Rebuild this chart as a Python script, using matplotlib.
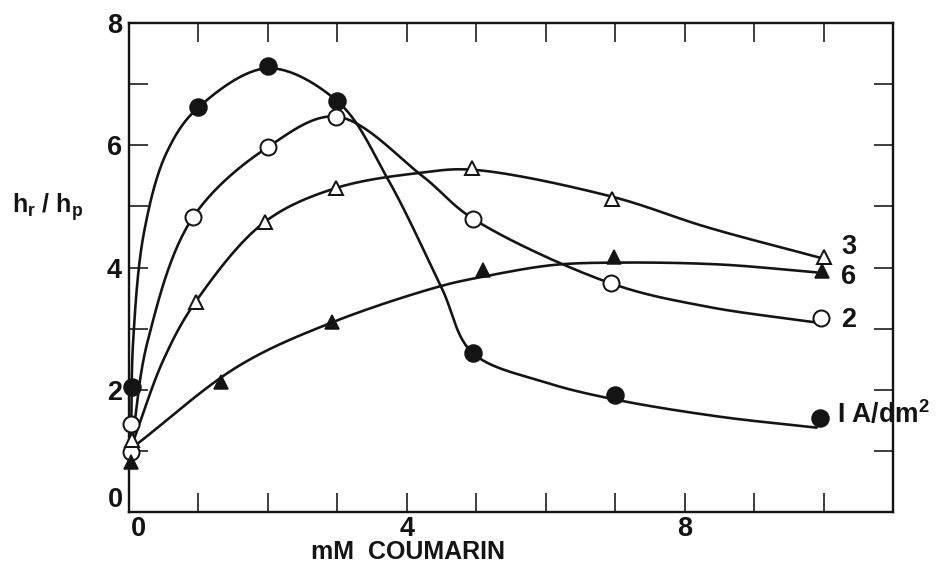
import numpy as np
import matplotlib
matplotlib.use("Agg")
import matplotlib.pyplot as plt

# ── Data (mM coumarin vs h_r/h_p) ─────────────────────────────────────────────
# measured points, one set per current density (A/dm^2)
x_1a = [0.05, 1.0, 2.0, 3.0, 4.95, 7.0, 9.95]
y_1a = [2.05, 6.62, 7.3, 6.72, 2.6, 1.92, 1.54]

x_2a = [0.03, 0.03, 0.92, 2.0, 2.98, 4.95, 6.94, 9.97]
y_2a = [1.44, 0.98, 4.82, 5.97, 6.47, 4.8, 3.74, 3.17]

x_3a = [0.04, 0.96, 1.96, 2.98, 4.94, 6.95, 10.0]
y_3a = [1.18, 3.44, 4.75, 5.3, 5.62, 5.12, 4.17]

x_6a = [0.03, 1.32, 2.92, 5.1, 6.98, 9.98]
y_6a = [0.82, 2.12, 3.11, 3.96, 4.17, 3.95]

# hand-drawn curves through the points (knots)
cx_1a = [0.03, 0.06, 0.22, 0.55, 1.0, 2.0, 3.0, 3.72, 4.5, 4.95, 6.0, 7.0, 8.5, 9.9]
cy_1a = [1.2, 2.8, 4.6, 5.9, 6.62, 7.26, 6.72, 5.46, 3.67, 2.6, 2.12, 1.84, 1.56, 1.38]

cx_2a = [0.04, 0.27, 0.92, 2.0, 2.98, 4.22, 4.95, 6.94, 8.32, 9.9]
cy_2a = [1.12, 2.8, 4.82, 5.97, 6.47, 5.5, 4.8, 3.74, 3.36, 3.1]

cx_3a = [0.05, 0.5, 0.96, 1.96, 2.98, 4.2, 4.94, 6.95, 8.32, 9.95]
cy_3a = [1.12, 2.5, 3.44, 4.75, 5.3, 5.55, 5.6, 5.16, 4.66, 4.16]

cx_6a = [0.08, 1.58, 2.92, 4.47, 5.1, 6.1, 7.0, 8.5, 9.9]
cy_6a = [1.08, 2.39, 3.1, 3.69, 3.85, 4.04, 4.08, 4.05, 3.92]

series_labels = ["I A/dm$^2$", "2", "3", "6"]

# ── Style ──────────────────────────────────────────────────────────────────────
INK = "#141414"
FONT = "Liberation Sans"
LW = 2.6

plt.rcParams["font.family"] = FONT
plt.rcParams["font.weight"] = "bold"
plt.rcParams["mathtext.fontset"] = "custom"
plt.rcParams["mathtext.rm"] = f"{FONT}:bold"
plt.rcParams["mathtext.it"] = f"{FONT}:bold"
plt.rcParams["mathtext.bf"] = f"{FONT}:bold"
plt.rcParams["mathtext.default"] = "rm"


def catmull_rom(xs, ys, n=30):
    """Centripetal Catmull-Rom spline through the knots."""
    p = np.column_stack([xs, ys]).astype(float)
    p = np.vstack([2 * p[0] - p[1], p, 2 * p[-1] - p[-2]])
    out = []
    for i in range(1, len(p) - 2):
        p0, p1, p2, p3 = p[i - 1], p[i], p[i + 1], p[i + 2]
        t0 = 0.0
        t1 = t0 + np.linalg.norm(p1 - p0) ** 0.5
        t2 = t1 + np.linalg.norm(p2 - p1) ** 0.5
        t3 = t2 + np.linalg.norm(p3 - p2) ** 0.5
        t = np.linspace(t1, t2, n)[:, None]
        a1 = (t1 - t) / (t1 - t0) * p0 + (t - t0) / (t1 - t0) * p1
        a2 = (t2 - t) / (t2 - t1) * p1 + (t - t1) / (t2 - t1) * p2
        a3 = (t3 - t) / (t3 - t2) * p2 + (t - t2) / (t3 - t2) * p3
        b1 = (t2 - t) / (t2 - t0) * a1 + (t - t0) / (t2 - t0) * a2
        b2 = (t3 - t) / (t3 - t1) * a2 + (t - t1) / (t3 - t1) * a3
        c = (t2 - t) / (t2 - t1) * b1 + (t - t1) / (t2 - t1) * b2
        out.append(c)
    c = np.vstack(out)
    return c[:, 0], c[:, 1]


fig = plt.figure(figsize=(13, 7.875), dpi=72)
ax = fig.add_axes([129 / 936, 55 / 567, 764 / 936, 489 / 567])

curves = [(cx_1a, cy_1a), (cx_2a, cy_2a), (cx_3a, cy_3a), (cx_6a, cy_6a)]
for cx, cy in curves:
    sx, sy = catmull_rom(cx, cy)
    ax.plot(sx, sy, color=INK, linewidth=LW, solid_capstyle="round", zorder=2)

# markers
ax.plot(x_1a, y_1a, "o", ms=17, mfc=INK, mec=INK, mew=1.5, ls="none", zorder=3, clip_on=False)
ax.plot(x_2a, y_2a, "o", ms=16, mfc="white", mec=INK, mew=2.0, ls="none", zorder=3, clip_on=False)
ax.plot(x_3a, y_3a, "^", ms=14, mfc="white", mec=INK, mew=2.0, ls="none", zorder=3, clip_on=False)
ax.plot(x_6a, y_6a, "^", ms=14, mfc=INK, mec=INK, mew=1.5, ls="none", zorder=3, clip_on=False)

# curve labels at the right end
ax.text(10.25, 4.33, series_labels[2], fontsize=27, ha="left", va="center", color=INK)
ax.text(10.25, 3.85, series_labels[3], fontsize=27, ha="left", va="center", color=INK)
ax.text(10.25, 3.14, series_labels[1], fontsize=27, ha="left", va="center", color=INK)
ax.text(10.19, 1.6, series_labels[0], fontsize=26.5, ha="left", va="center", color=INK)

# ── Axes ───────────────────────────────────────────────────────────────────────
ax.set_xlim(0, 11)
ax.set_ylim(0, 8)
ax.set_xticks([0, 4, 8], ["", "4", "8"])
ax.set_xticks(range(0, 12), minor=True)
ax.set_yticks([0, 2, 4, 6, 8], ["", "2", "4", "6", "8"])
ax.set_yticks(range(0, 9), minor=True)
for which in ("major", "minor"):
    ax.tick_params(which=which, direction="in", length=19, width=1.6, color=INK,
                   top=True, right=True)
ax.tick_params(axis="x", which="major", labelsize=27, labelcolor=INK, pad=4)
ax.tick_params(axis="y", which="major", labelsize=27, labelcolor=INK, pad=7)
for lab in ax.get_xticklabels() + ax.get_yticklabels():
    lab.set_fontweight("bold")
for sp in ax.spines.values():
    sp.set_linewidth(2.4)
    sp.set_color(INK)

# the two zeros at the origin sit slightly apart in the original
ax.text(-0.19, 0.2, "0", fontsize=27, ha="center", va="center", color=INK,
        clip_on=False)
ax.text(0.13, -0.27, "0", fontsize=27, ha="center", va="center", color=INK,
        clip_on=False)

ax.set_xlabel("mM  COUMARIN", fontsize=25, fontweight="bold", color=INK)
ax.xaxis.set_label_coords((408 - 129) / 764, -0.058)
ax.xaxis.label.set_va("top")

fig.text(48 / 936, 1 - 207 / 567, "h$_r$ / h$_p$", fontsize=25, ha="center",
         va="center", color=INK)

fig.savefig("out.png", dpi=72, facecolor="white")
